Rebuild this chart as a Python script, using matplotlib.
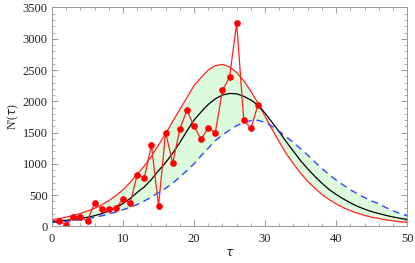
import matplotlib
matplotlib.use("Agg")
import matplotlib.pyplot as plt
from matplotlib.ticker import MultipleLocator
import numpy as np

# grille des courbes (tau = 0..50)
tau = np.arange(0, 51)

# courbe noire (modele central)
noir = [75, 85, 95, 110, 125, 145, 170, 202, 246, 300,
        365, 445, 543, 630, 750, 890, 1020, 1170, 1340, 1525,
        1700, 1830, 1950, 2040, 2100, 2125, 2120, 2080, 2020, 1940,
        1810, 1660, 1510, 1350, 1200, 1050, 920, 800, 690, 590,
        510, 440, 375, 320, 275, 235, 205, 175, 150, 128, 110]

# courbe rouge (borne)
rouge = [105, 124, 147, 174, 206, 244, 289, 343, 410, 490,
         585, 700, 835, 965, 1120, 1300, 1480, 1680, 1870, 2060,
         2250, 2380, 2500, 2570, 2590, 2550, 2460, 2330, 2160, 1970,
         1760, 1550, 1350, 1160, 1000, 850, 720, 610, 510, 430,
         360, 300, 250, 210, 175, 145, 125, 105, 88, 74, 62]

# courbe bleue en tirets (borne)
bleu = [60, 70, 80, 92, 105, 122, 143, 168, 196, 228,
        265, 305, 350, 405, 470, 540, 610, 690, 790, 890,
        1000, 1130, 1250, 1370, 1460, 1540, 1610, 1660, 1690, 1695,
        1660, 1600, 1520, 1430, 1340, 1240, 1140, 1030, 925, 830,
        740, 660, 585, 520, 460, 405, 362, 300, 248, 205, 168]

# donnees observees
tau_obs = np.arange(1, 30)
obs = [85, 27, 150, 150, 90, 373, 277, 277, 300, 430,
       368, 827, 780, 1296, 331, 1500, 1008, 1557, 1856, 1600,
       1392, 1579, 1500, 2176, 2384, 3253, 1696, 1568, 1941]

plt.rcParams['font.family'] = ['Liberation Serif', 'DejaVu Serif']

fig = plt.figure(figsize=(4.15, 2.63), dpi=100)
ax = fig.add_axes([0.1253, 0.1395, 0.8557, 0.8320])

ax.fill_between(tau, rouge, bleu, color='#dcfadc', lw=0)
ax.plot(tau, rouge, color='#ff2020', lw=0.9)
ax.plot(tau, noir, color='black', lw=0.9)
ax.plot(tau, bleu, color='#3344ff', lw=1.0, dashes=(5, 3.5))
ax.plot(tau_obs, obs, color='#ff2020', lw=0.9, marker='o', ms=3.8, mfc='red', mec='red')

ax.set_xlim(0, 50)
ax.set_ylim(0, 3500)
ax.xaxis.set_major_locator(MultipleLocator(10))
ax.xaxis.set_minor_locator(MultipleLocator(2))
ax.yaxis.set_major_locator(MultipleLocator(500))
ax.yaxis.set_minor_locator(MultipleLocator(100))
ax.tick_params(which='both', direction='in', top=True, right=True, color='#888888',
               labelsize=9, labelcolor='#222222')
ax.tick_params(axis='y', pad=3)
ax.tick_params(axis='x', pad=5)
ax.tick_params(which='major', length=4, width=0.6)
ax.tick_params(which='minor', length=2, width=0.5)
for s in ax.spines.values():
    s.set_color('#999999')
    s.set_linewidth(0.7)

ax.set_xlabel(r'$\tau$', fontsize=9, color='#222222', labelpad=1)
ax.set_ylabel(r"N'($\tau$)", fontsize=8.5, color='#222222', labelpad=1)

fig.savefig('out.png', dpi=100)
